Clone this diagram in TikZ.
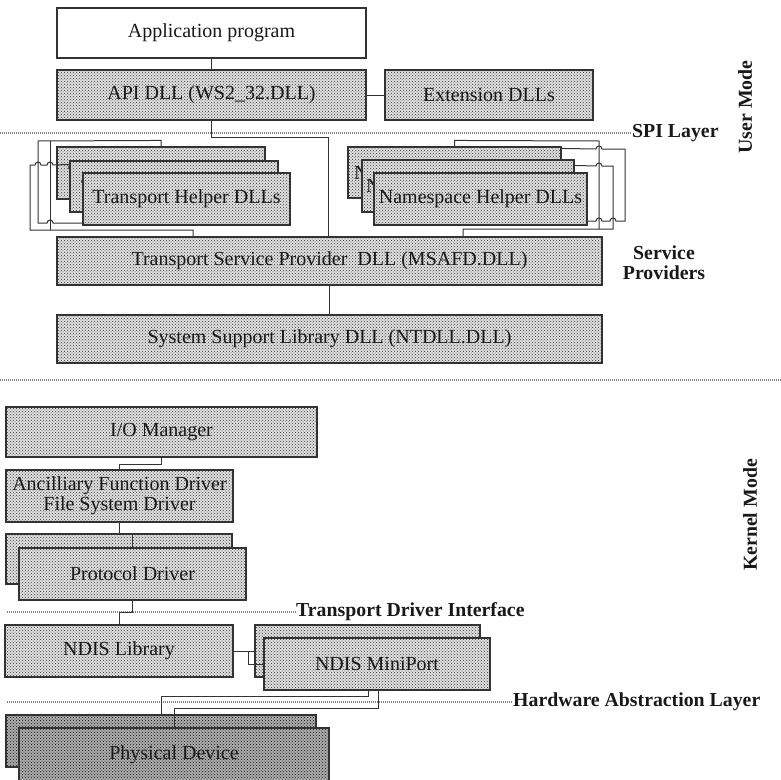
\documentclass[tikz,border=0pt]{standalone}
\usepackage{fontspec}
\setmainfont{Liberation Serif}
\usetikzlibrary{patterns,calc}
\newcommand\boxfont{\fontsize{20}{20}\selectfont}
\newcommand\labfont{\fontsize{19.8}{20}\selectfont\bfseries}
\tikzset{
  basebox/.style={draw=black!80, line width=1.1pt, inner sep=0pt, font=\boxfont, text=black!90},
  wbox/.style={basebox, fill=white},
  box/.style={basebox, preaction={fill=black!12}, pattern=crosshatch dots, pattern color=black!80},
  darkbox/.style={basebox, preaction={fill=black!32}, pattern=crosshatch dots, pattern color=black!95},
  wire/.style={draw=black!80, line width=1pt},
  sep/.style={draw=black!50, line width=1.5pt, dash pattern=on 1pt off 1pt},
  lab/.style={font=\labfont, inner sep=0pt, text=black!90},
  peek/.style={font=\boxfont, inner sep=0pt, anchor=west, text=black!90}
}
\begin{document}
\begin{tikzpicture}[x=1pt,y=-1pt]
\useasboundingbox (0,0) rectangle (781,779);

% ---------- labels and separator lines ----------
\node[lab, anchor=west] (spi) at (632,133) {SPI Layer};
\node[lab, rotate=90] (um) at (745,107) {User Mode};
\node[lab, align=center] (sp) at (664,263) {Service\\Providers};
\node[lab, rotate=90] (km) at (750,515) {Kernel Mode};
\node[lab, anchor=west] (tdi) at (296,612) {Transport Driver Interface};
\node[lab, anchor=west] (hal) at (513,702) {Hardware Abstraction Layer};
\coordinate (s0) at (0,133);
\coordinate (k0) at (0,380);
\coordinate (k1) at (781,380);
\coordinate (t0) at (7,612);
\coordinate (h0) at (7,702);
\draw[sep] (s0) -- (spi.west);
\draw[sep] (k0) -- (k1);
\draw[sep] (t0) -- (tdi.west);
\draw[sep] (h0) -- (hal.west);

% ---------- user mode ----------
\node[wbox, minimum width=309pt, minimum height=50pt] (app) at (211.5,33) {Application program};
\node[box, minimum width=309pt, minimum height=50pt] (api) at (211.5,95) {API DLL (WS2\_32.DLL)};
\node[box, minimum width=208pt, minimum height=50pt] (ext) at (489,95) {Extension DLLs};

\node[box, minimum width=208pt, minimum height=52pt] (th1) at (161,173) {};
\node[peek] (th1t) at (68,173) {T};
\node[box, minimum width=208pt, minimum height=51pt] (th2) at (174,186.5) {};
\node[peek] (th2t) at (81,186.5) {T};
\node[box, minimum width=207pt, minimum height=52pt] (th3) at (186.5,199) {Transport Helper DLLs};

\node[box, minimum width=213pt, minimum height=51pt] (ns1) at (454.5,172.5) {};
\node[peek] (ns1t) at (354,172.5) {N};
\node[box, minimum width=212pt, minimum height=52pt] (ns2) at (468,186) {};
\node[peek] (ns2t) at (366,186) {N};
\node[box, minimum width=213pt, minimum height=52pt] (ns3) at (480.5,199) {Namespace Helper DLLs};

\node[box, minimum width=545pt, minimum height=48pt] (tsp) at (329.5,261) {Transport Service Provider\ \ DLL (MSAFD.DLL)};
\node[box, minimum width=545pt, minimum height=48pt] (ssl) at (329.5,339) {System Support Library DLL (NTDLL.DLL)};

% connectors, user mode
\draw[wire] (app.south) -- (api.north);
\draw[wire] (api.east) -- (ext.west);
\coordinate (ab) at (328,137);
\draw[wire] (api.south) |- (ab) -- (ab |- tsp.north);
\draw[wire] (tsp.south) -- (ssl.north);

% transport helper wiring
\coordinate (la1) at (38,141);
\coordinate (la2) at (38,223);
\draw[wire] (th1.north) -- ++(0,-6) -- (la1) -- (la2) -- (47,223)
  arc[start angle=180, end angle=360, radius=3] -- (th3.west |- la2);
\coordinate (lc1) at (50,141);
\coordinate (lc2) at (50,230);
\draw[wire] (lc1) -- (lc2);
\coordinate (lb0) at ($(th2.north west)+(0,4)$);
\coordinate (lb1) at (30,165);
\coordinate (lb2) at (30,230);
\coordinate (lb3) at (193,230);
\draw[wire] (lb0) -- (53,165) arc[start angle=0, end angle=-180, radius=3]
  -- (41,165) arc[start angle=0, end angle=-180, radius=3]
  -- (lb1) -- (lb2) -- (lb3) -- (lb3 |- tsp.north);

% namespace helper wiring
\coordinate (ra1) at (599,141);
\coordinate (ra2) at (599,229);
\draw[wire] (ns1.north) -- ++(0,-6) -- (ra1) -- (ra2);
\coordinate (rb0) at ($(ns1.north east)+(0,2)$);
\coordinate (rb1) at (625,149);
\coordinate (rb2) at (625,221);
\draw[wire] (rb0) -- (596,149) arc[start angle=180, end angle=360, radius=3]
  -- (rb1) -- (rb2) -- (616,221) arc[start angle=0, end angle=-180, radius=3]
  -- (602,221) arc[start angle=0, end angle=-180, radius=3]
  -- (ns3.south east |- rb2);
\coordinate (rc0) at ($(ns2.north east)+(0,6)$);
\coordinate (rc1) at (613,166);
\coordinate (rc2) at (613,229);
\coordinate (rc3) at (463,229);
\draw[wire] (rc0) -- (596,166) arc[start angle=180, end angle=360, radius=3]
  -- (rc1) -- (rc2) -- (rc3) -- (rc3 |- tsp.north);

% ---------- kernel mode ----------
\node[box, minimum width=311pt, minimum height=50pt] (io) at (161.5,432) {I/O Manager};
\node[box, minimum width=227pt, minimum height=52pt, align=center] (afd) at (119.5,496) {Ancilliary Function Driver\\File System Driver};
\node[box, minimum width=226pt, minimum height=50pt] (pd1) at (119,559) {};
\node[box, minimum width=227pt, minimum height=52pt] (pd2) at (132.5,574) {Protocol Driver};
\node[box, minimum width=228pt, minimum height=52pt] (ndis) at (119,651) {NDIS Library};
\node[box, minimum width=225pt, minimum height=52pt] (mp1) at (367.5,651) {};
\node[box, minimum width=226pt, minimum height=52pt] (mp2) at (377,664) {NDIS MiniPort};
\node[darkbox, minimum width=310pt, minimum height=52pt] (ph1) at (161,741) {};
\node[darkbox, minimum width=310pt, minimum height=53pt] (ph2) at (174,754.5) {Physical Device};

\draw[wire] (io.south) -- ++(0,7) -| (afd.north);
\draw[wire] (afd.south) -- (afd.south |- pd1.north) -| (pd2.north);
\draw[wire] (pd2.south) -- ++(0,12) -| (ndis.north);
\draw[wire] (ndis.east) -- (ndis.east -| mp1.west);
\draw[wire] ($(ndis.east)+(15,0)$) |- (mp2.west);
\draw[wire] ([xshift=-9pt]mp2.south) -- ++(0,6) -| (ph1.north);
\draw[wire] ([xshift=1pt]mp2.south) -- ++(0,18) -| (ph2.north);
\end{tikzpicture}
\end{document}
